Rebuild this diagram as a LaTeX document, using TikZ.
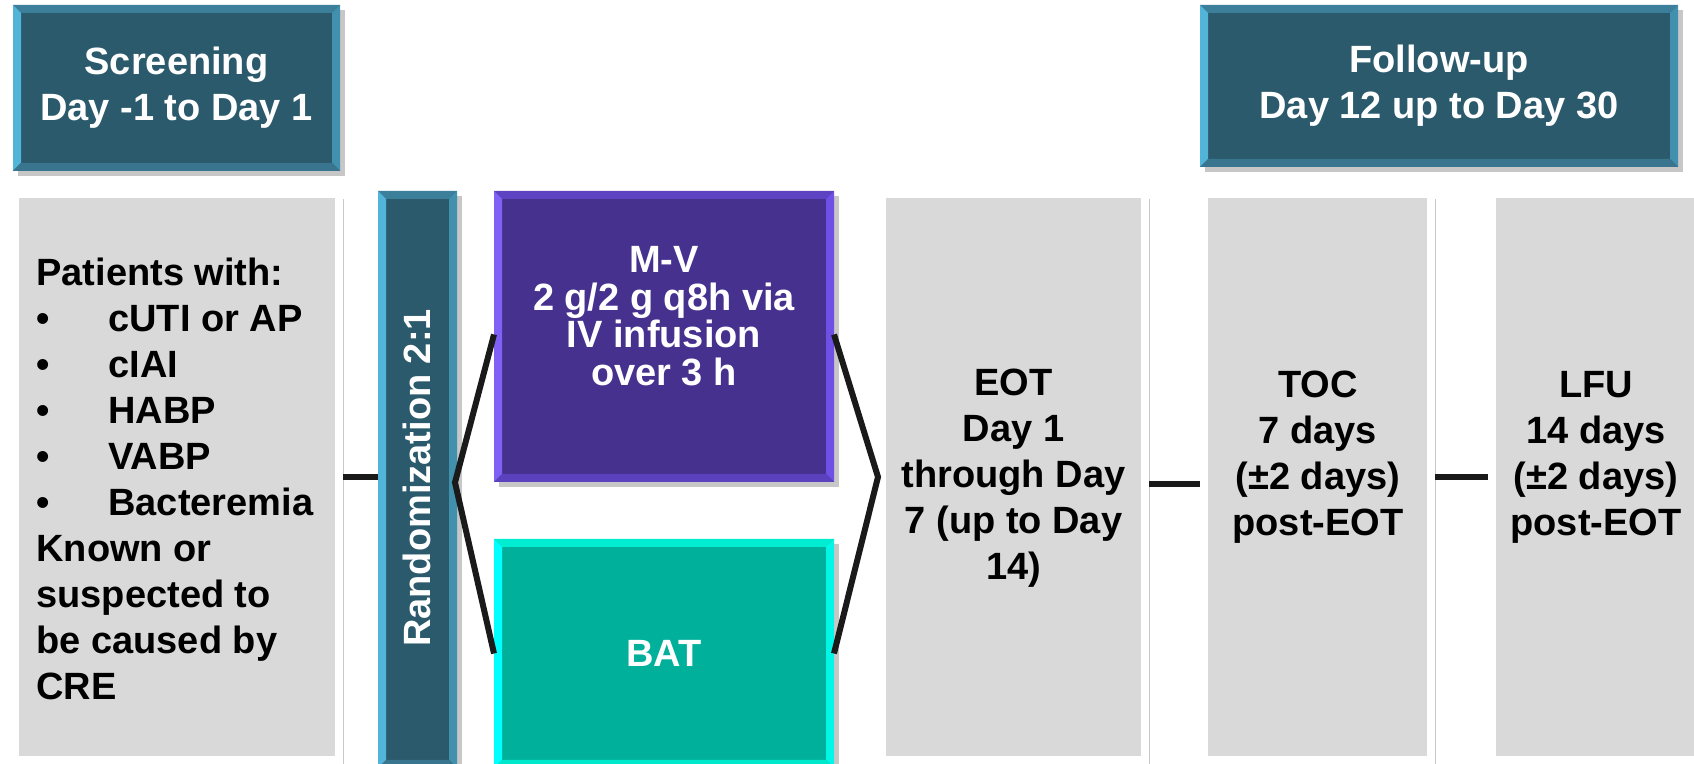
\documentclass[tikz,border=0pt]{standalone}
\usepackage{fontspec}
\setmainfont{Liberation Sans}
\usetikzlibrary{shadows}
\definecolor{tealmain}{HTML}{2A5A6B}
\definecolor{tealtop}{HTML}{3B7F9B}
\definecolor{tealleft}{HTML}{52B4D9}
\definecolor{tealright}{HTML}{4090AE}
\definecolor{tealbot}{HTML}{3A7590}
\definecolor{purpmain}{HTML}{46318F}
\definecolor{purptop}{HTML}{5D42C2}
\definecolor{purpleft}{HTML}{8060F5}
\definecolor{purpright}{HTML}{6E50E6}
\definecolor{purpbot}{HTML}{5B41BE}
\definecolor{batmain}{HTML}{00B09B}
\definecolor{battop}{HTML}{00EDD1}
\definecolor{batleft}{HTML}{00FFFF}
\definecolor{batright}{HTML}{00F6E6}
\definecolor{batbot}{HTML}{00E8CC}
\definecolor{boxgray}{HTML}{D9D9D9}
\definecolor{linec}{HTML}{1A1A1A}
\newcommand{\bevelbox}[5]{%
  \fill[#2] (#1.north west) -- (#1.north east) -- ([shift={(-4pt,-4pt)}]#1.north east) -- ([shift={(4pt,-4pt)}]#1.north west) -- cycle;
  \fill[#3] (#1.north west) -- ([shift={(4pt,-4pt)}]#1.north west) -- ([shift={(4pt,4pt)}]#1.south west) -- (#1.south west) -- cycle;
  \fill[#4] (#1.north east) -- ([shift={(-4pt,-4pt)}]#1.north east) -- ([shift={(-4pt,4pt)}]#1.south east) -- (#1.south east) -- cycle;
  \fill[#5] (#1.south west) -- ([shift={(4pt,4pt)}]#1.south west) -- ([shift={(-4pt,4pt)}]#1.south east) -- (#1.south east) -- cycle;
}
\tikzset{
  shad/.style={drop shadow={shadow xshift=2.5pt,shadow yshift=-2.5pt,opacity=0.22,fill=black}},
  solidbox/.style={inner sep=0pt, outer sep=0pt, shad},
  graybox/.style={fill=boxgray, draw=white, line width=4pt, inner sep=0pt, outer sep=2pt, minimum height=283pt, shad},
  txt/.style={font=\fontsize{19}{23}\selectfont\bfseries, align=center, inner sep=0pt},
  conn/.style={draw=linec, line width=3pt},
}
\begin{document}
\begin{tikzpicture}[x=0.5pt,y=-0.5pt]
\useasboundingbox (0,0) rectangle (1694,764);
% header boxes
\node[solidbox, fill=tealmain, minimum width=163.5pt, minimum height=83pt, txt, text=white] (scr) at (176.5,88) {Screening\\Day -1 to Day 1};
\bevelbox{scr}{tealtop}{tealleft}{tealright}{tealbot}
\node[solidbox, fill=tealmain, minimum width=239pt, minimum height=81pt, txt, text=white] (fup) at (1439,86) {Follow-up\\Day 12 up to Day 30};
\bevelbox{fup}{tealtop}{tealleft}{tealright}{tealbot}
% gray boxes
\node[graybox, minimum width=162pt] (pat) at (177,477) {};
\node[graybox, minimum width=131.5pt] (eot) at (1013.5,477) {};
\node[graybox, minimum width=113.5pt] (toc) at (1317.5,477) {};
\node[graybox, minimum width=106pt] (lfu) at (1598,477) {};
% randomization bar
\node[solidbox, fill=tealmain, minimum width=39.5pt, minimum height=288.5pt] (rand) at (417.5,479.5) {};
\bevelbox{rand}{tealtop}{tealleft}{tealright}{tealbot}
% treatment boxes
\node[solidbox, fill=purpmain, minimum width=170pt, minimum height=145.5pt] (mv) at (664,336.5) {};
\bevelbox{mv}{purptop}{purpleft}{purpright}{purpbot}
\node[solidbox, fill=batmain, minimum width=170pt, minimum height=114.5pt, txt, text=white] (bat) at (664,653.5) {BAT};
\bevelbox{bat}{battop}{batleft}{batright}{batbot}
% texts
\node[txt, align=left, anchor=west] (patT) at (36,479) {Patients with:\\
\makebox[36pt][l]{\textbullet}cUTI or AP\\
\makebox[36pt][l]{\textbullet}cIAI\\
\makebox[36pt][l]{\textbullet}HABP\\
\makebox[36pt][l]{\textbullet}VABP\\
\makebox[36pt][l]{\textbullet}Bacteremia\\
Known or\\
suspected to\\
be caused by\\
CRE};
\node[txt, text=white, rotate=90] (randT) at (417,478) {Randomization 2:1};
\node[txt, text=white, font=\fontsize{19}{18.8}\selectfont\bfseries] (mvT) at (664,316) {M-V\\2 g/2 g q8h via\\IV infusion\\over 3 h};
\node[txt] (eotT) at (1013.5,478) {EOT\\Day 1\\through Day\\7 (up to Day\\14)};
\node[txt] (tocT) at (1318,457.5) {TOC\\7 days\\(±2 days)\\post-EOT};
\node[txt] (lfuT) at (1596,457) {LFU\\14 days\\(±2 days)\\post-EOT};
% connectors
\draw[conn] (pat.east) -- (pat.east -| rand.west);
\coordinate (j1) at ([xshift=-1pt,yshift=-1.5pt]rand.east);
\draw[conn] ([yshift=1pt]mv.west) -- (j1) -- (bat.west);
\draw[conn] ([yshift=1pt]mv.east) -- (eot.west) -- (bat.east);
\draw[conn] ([yshift=-3.5pt]eot.east) -- ([yshift=-3.5pt]toc.west);
\draw[conn] (toc.east) -- (lfu.west);
\end{tikzpicture}
\end{document}
